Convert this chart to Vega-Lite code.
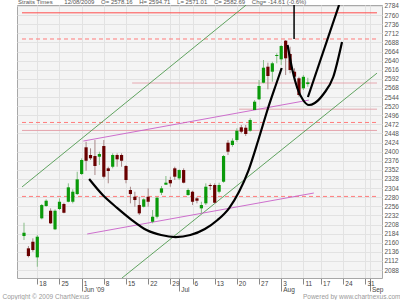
{
  "$schema": "https://vega.github.io/schema/vega-lite/v6.json",
  "width": 365,
  "height": 273,
  "autosize": {"type": "none"},
  "padding": {"left": 17, "top": 5, "right": 18, "bottom": 22},
  "background": "white",
  "config": {
    "font": "Liberation Sans",
    "view": {"fill": "#f4f4f4", "stroke": "#a8a8a8", "strokeWidth": 1},
    "axisX": {"labelAlign": "left", "labelBaseline": "top", "labelOffset": 1.5, "labelFontSize": 6.5, "labelColor": "#444444", "labelLineHeight": 6.5, "tickColor": "#888888", "grid": true, "gridColor": "#e2e2e2", "domain": false, "titleAnchor": "start", "titleAlign": "left", "titleBaseline": "alphabetic", "titleFontSize": 6.5, "titleFontWeight": "normal", "titleColor": "#999999"},
    "axisY": {"labelFontSize": 6.5, "labelColor": "#555555", "labelPadding": 2, "tickSize": 0, "grid": true, "gridColor": "#e2e2e2", "domain": false, "titleAngle": 0, "titleAlign": "right", "titleBaseline": "alphabetic", "titleFontSize": 6.5, "titleFontWeight": "normal", "titleColor": "#999999"}
  },
  "title": {
    "text": "Straits Times\u00a0\u00a0\u00a0\u00a0\u00a0\u00a0\u00a012/08/2009\u00a0\u00a0\u00a0\u00a0O= 2578.16\u00a0\u00a0\u00a0\u00a0H= 2594.71\u00a0\u00a0\u00a0\u00a0L= 2571.01\u00a0\u00a0\u00a0\u00a0C= 2582.69\u00a0\u00a0\u00a0\u00a0Chg= -14.61 (-0.6%)",
    "anchor": "start",
    "frame": "group",
    "orient": "top",
    "offset": -4,
    "dx": 1,
    "dy": 3,
    "baseline": "alphabetic",
    "fontSize": 6,
    "fontWeight": "normal",
    "color": "#555555",
    "font": "Liberation Sans"
  },
  "datasets": {
    "candles": [
      {"i": -3, "o": 2177.6, "h": 2212.7, "l": 2167.1, "c": 2186.3},
      {"i": -2, "o": 2145.2, "h": 2151.2, "l": 2121.4, "c": 2124.9},
      {"i": -1, "o": 2162.6, "h": 2171.6, "l": 2136.2, "c": 2140.7},
      {"i": 0, "o": 2121.4, "h": 2180.2, "l": 2096.7, "c": 2175.8},
      {"i": 1, "o": 2224.3, "h": 2262.0, "l": 2221.6, "c": 2259.3},
      {"i": 2, "o": 2256.7, "h": 2274.3, "l": 2254.8, "c": 2270.7},
      {"i": 3, "o": 2244.3, "h": 2250.6, "l": 2209.3, "c": 2211.1},
      {"i": 4, "o": 2195.3, "h": 2248.0, "l": 2193.4, "c": 2244.3},
      {"i": 5, "o": 2248.8, "h": 2277.0, "l": 2246.2, "c": 2268.0},
      {"i": 6, "o": 2262.0, "h": 2265.4, "l": 2237.5, "c": 2239.0},
      {"i": 7, "o": 2268.0, "h": 2316.5, "l": 2266.5, "c": 2306.0},
      {"i": 8, "o": 2268.0, "h": 2300.7, "l": 2263.8, "c": 2294.4},
      {"i": 9, "o": 2288.3, "h": 2347.1, "l": 2285.7, "c": 2327.1},
      {"i": 10, "o": 2341.1, "h": 2382.4, "l": 2338.4, "c": 2378.0},
      {"i": 11, "o": 2411.5, "h": 2426.2, "l": 2349.8, "c": 2376.1},
      {"i": 12, "o": 2391.2, "h": 2408.8, "l": 2378.0, "c": 2382.5},
      {"i": 13, "o": 2388.5, "h": 2430.7, "l": 2338.4, "c": 2362.2},
      {"i": 14, "o": 2386.7, "h": 2399.9, "l": 2364.8, "c": 2393.8},
      {"i": 15, "o": 2414.9, "h": 2430.7, "l": 2329.7, "c": 2333.9},
      {"i": 16, "o": 2356.1, "h": 2360.3, "l": 2316.6, "c": 2349.0},
      {"i": 17, "o": 2360.3, "h": 2395.6, "l": 2356.1, "c": 2391.2},
      {"i": 18, "o": 2391.2, "h": 2395.6, "l": 2360.3, "c": 2379.8},
      {"i": 19, "o": 2391.2, "h": 2395.6, "l": 2360.3, "c": 2376.1},
      {"i": 20, "o": 2362.2, "h": 2364.8, "l": 2316.6, "c": 2325.3},
      {"i": 21, "o": 2298.9, "h": 2307.6, "l": 2263.8, "c": 2288.3},
      {"i": 22, "o": 2281.2, "h": 2294.4, "l": 2254.8, "c": 2272.5},
      {"i": 23, "o": 2259.3, "h": 2281.2, "l": 2233.0, "c": 2237.4},
      {"i": 24, "o": 2254.8, "h": 2277.0, "l": 2253.0, "c": 2274.3},
      {"i": 25, "o": 2281.2, "h": 2303.4, "l": 2254.8, "c": 2268.0},
      {"i": 26, "o": 2215.3, "h": 2246.2, "l": 2211.1, "c": 2228.5},
      {"i": 27, "o": 2228.5, "h": 2281.2, "l": 2224.0, "c": 2278.6},
      {"i": 28, "o": 2291.8, "h": 2309.4, "l": 2285.7, "c": 2303.4},
      {"i": 29, "o": 2312.9, "h": 2335.8, "l": 2312.9, "c": 2318.2},
      {"i": 30, "o": 2325.3, "h": 2334.0, "l": 2307.6, "c": 2316.5},
      {"i": 31, "o": 2356.1, "h": 2360.3, "l": 2325.3, "c": 2334.0},
      {"i": 32, "o": 2329.7, "h": 2353.5, "l": 2325.3, "c": 2351.6},
      {"i": 33, "o": 2351.6, "h": 2356.1, "l": 2316.5, "c": 2318.2},
      {"i": 34, "o": 2285.7, "h": 2303.4, "l": 2283.8, "c": 2298.9},
      {"i": 35, "o": 2294.4, "h": 2297.0, "l": 2259.3, "c": 2268.0},
      {"i": 36, "o": 2277.0, "h": 2281.2, "l": 2263.8, "c": 2270.7},
      {"i": 37, "o": 2250.6, "h": 2268.0, "l": 2237.4, "c": 2259.3},
      {"i": 38, "o": 2263.8, "h": 2316.5, "l": 2259.3, "c": 2307.6},
      {"i": 39, "o": 2312.1, "h": 2316.5, "l": 2298.9, "c": 2309.4},
      {"i": 40, "o": 2312.1, "h": 2316.5, "l": 2263.8, "c": 2265.4},
      {"i": 41, "o": 2294.4, "h": 2318.2, "l": 2290.0, "c": 2312.1},
      {"i": 42, "o": 2320.8, "h": 2391.2, "l": 2318.2, "c": 2388.5},
      {"i": 43, "o": 2423.6, "h": 2430.7, "l": 2391.2, "c": 2399.9},
      {"i": 44, "o": 2417.5, "h": 2435.2, "l": 2413.0, "c": 2428.9},
      {"i": 45, "o": 2430.7, "h": 2461.5, "l": 2426.2, "c": 2455.2},
      {"i": 46, "o": 2464.2, "h": 2470.3, "l": 2448.4, "c": 2452.6},
      {"i": 47, "o": 2463.1, "h": 2470.3, "l": 2441.2, "c": 2446.5},
      {"i": 48, "o": 2455.2, "h": 2487.9, "l": 2452.6, "c": 2483.4},
      {"i": 49, "o": 2509.8, "h": 2536.1, "l": 2509.8, "c": 2531.7},
      {"i": 50, "o": 2538.0, "h": 2588.9, "l": 2536.1, "c": 2573.1},
      {"i": 51, "o": 2581.8, "h": 2641.6, "l": 2580.2, "c": 2621.3},
      {"i": 52, "o": 2624.0, "h": 2634.5, "l": 2564.4, "c": 2599.4},
      {"i": 53, "o": 2610.8, "h": 2637.1, "l": 2584.4, "c": 2632.9},
      {"i": 54, "o": 2652.2, "h": 2659.3, "l": 2632.9, "c": 2654.8},
      {"i": 55, "o": 2643.4, "h": 2681.2, "l": 2628.5, "c": 2678.5},
      {"i": 56, "o": 2692.5, "h": 2694.3, "l": 2602.0, "c": 2646.1},
      {"i": 57, "o": 2657.5, "h": 2676.7, "l": 2606.6, "c": 2615.3},
      {"i": 58, "o": 2610.8, "h": 2619.7, "l": 2588.9, "c": 2597.6},
      {"i": 59, "o": 2593.4, "h": 2597.6, "l": 2544.9, "c": 2549.3},
      {"i": 60, "o": 2567.0, "h": 2602.0, "l": 2562.5, "c": 2597.3},
      {"i": 61, "o": 2578.16, "h": 2594.71, "l": 2571.01, "c": 2582.69}
    ],
    "levels": [
      {"kind": "major", "v": 2766, "a": -3.45, "b": 76.6},
      {"kind": "dashed", "v": 2697, "a": -3.45, "b": 76.6},
      {"kind": "minor", "v": 2581, "a": 21.4, "b": 76.6},
      {"kind": "minor", "v": 2512, "a": 45.5, "b": 76.6},
      {"kind": "dashed", "v": 2477, "a": -3.45, "b": 76.6},
      {"kind": "minor", "v": 2456, "a": -3.45, "b": 76.6},
      {"kind": "dashed", "v": 2282, "a": -3.45, "b": 76.6}
    ],
    "trends": [
      {"name": "channelUpper", "kind": "channel", "i": -3.44, "v": 2307},
      {"name": "channelUpper", "kind": "channel", "i": 47.1, "v": 2786.6},
      {"name": "channelLower", "kind": "channel", "i": 19.1, "v": 2067},
      {"name": "channelLower", "kind": "channel", "i": 76.6, "v": 2607},
      {"name": "fanUpper", "kind": "fan", "i": 10.37, "v": 2428},
      {"name": "fanUpper", "kind": "fan", "i": 61.25, "v": 2536},
      {"name": "fanLower", "kind": "fan", "i": 11.25, "v": 2183},
      {"name": "fanLower", "kind": "fan", "i": 62.35, "v": 2291}
    ],
    "curves": [
      {"name": "bigCup", "i": 11.69, "v": 2327.9},
      {"name": "bigCup", "i": 14.76, "v": 2285.7},
      {"name": "bigCup", "i": 18.05, "v": 2251.4},
      {"name": "bigCup", "i": 21.34, "v": 2219.8},
      {"name": "bigCup", "i": 24.63, "v": 2193.4},
      {"name": "bigCup", "i": 27.92, "v": 2180.2},
      {"name": "bigCup", "i": 31.21, "v": 2175.0},
      {"name": "bigCup", "i": 34.5, "v": 2180.2},
      {"name": "bigCup", "i": 37.79, "v": 2196.1},
      {"name": "bigCup", "i": 40.64, "v": 2219.8},
      {"name": "bigCup", "i": 43.27, "v": 2251.4},
      {"name": "bigCup", "i": 45.46, "v": 2293.6},
      {"name": "bigCup", "i": 47.65, "v": 2351.6},
      {"name": "bigCup", "i": 49.84, "v": 2430.7},
      {"name": "bigCup", "i": 52.04, "v": 2515.1},
      {"name": "bigCup", "i": 53.79, "v": 2575.7},
      {"name": "bigCup", "i": 55.11, "v": 2620.5},
      {"name": "smallCup", "i": 56.43, "v": 2681.2},
      {"name": "smallCup", "i": 57.52, "v": 2615.3},
      {"name": "smallCup", "i": 58.62, "v": 2567.8},
      {"name": "smallCup", "i": 59.93, "v": 2536.2},
      {"name": "smallCup", "i": 61.25, "v": 2523.0},
      {"name": "smallCup", "i": 62.57, "v": 2528.3},
      {"name": "smallCup", "i": 64.54, "v": 2552.0},
      {"name": "smallCup", "i": 66.73, "v": 2596.8},
      {"name": "smallCup", "i": 68.71, "v": 2689.1},
      {"name": "breakout", "i": 61.03, "v": 2544.1},
      {"name": "breakout", "i": 68.05, "v": 2786.6}
    ],
    "marker": [
      {"i": 57.9, "from": 2697, "to": 2786.6}
    ]
  },
  "layer": [
    {
      "data": {"name": "levels"},
      "mark": {"type": "rule", "strokeWidth": 1},
      "encoding": {
        "x": {
          "field": "a", "type": "quantitative",
          "scale": {"domain": [-3.45, 76.6], "nice": false, "zero": false},
          "axis": {"values": [0, 5, 10, 15, 20, 25, 30, 32, 35, 40, 45, 50, 55, 60, 64, 69, 74, 75], "labelExpr": "['18','25',['1',\"Jun '09\"],'8','15','22','29',['','Jul'],'6','13','20','27',['3','Aug'],'11','17','24','31',['','Sep']][indexof([0,5,10,15,20,25,30,32,35,40,45,50,55,60,64,69,74,75], datum.value)]", "labelOverlap": false, "labelFlush": false, "labelPadding": {"condition": {"test": "indexof([10,32,55,75], datum.value) >= 0", "value": -11}, "value": -4}, "tickSize": {"condition": {"test": "indexof([10,32,55,75], datum.value) >= 0", "value": 13}, "value": 6}, "title": "Copyright © 2009 ChartNexus", "titleX": -15, "titleY": 20.5}
        },
        "x2": {"field": "b"},
        "y": {
          "field": "v", "type": "quantitative",
          "scale": {"domain": [2067, 2786.6], "nice": false, "zero": false},
          "axis": {"orient": "right", "values": [2088, 2112, 2136, 2160, 2184, 2208, 2232, 2256, 2280, 2304, 2328, 2352, 2376, 2400, 2424, 2448, 2472, 2496, 2520, 2544, 2568, 2592, 2616, 2640, 2664, 2688, 2712, 2736, 2760, 2784], "format": "d", "labelOverlap": false, "labelFlush": false, "title": "Powered by www.chartnexus.com", "titleX": 18, "titleY": 293.5}
        },
        "color": {"condition": [{"test": "datum.kind == 'major'", "value": "#ff4d4d"}, {"test": "datum.kind == 'dashed'", "value": "#ff7c7c"}], "value": "#e3a3ab"},
        "strokeDash": {"condition": {"test": "datum.kind == 'dashed'", "value": [4, 3]}, "value": [1, 0]}
      }
    },
    {
      "data": {"name": "trends"},
      "mark": {"type": "line", "strokeWidth": 0.9, "clip": true},
      "encoding": {
        "x": {"field": "i", "type": "quantitative", "axis": {"values": [0, 5, 10, 15, 20, 25, 30, 32, 35, 40, 45, 50, 55, 60, 64, 69, 74, 75], "labelExpr": "['18','25',['1',\"Jun '09\"],'8','15','22','29',['','Jul'],'6','13','20','27',['3','Aug'],'11','17','24','31',['','Sep']][indexof([0,5,10,15,20,25,30,32,35,40,45,50,55,60,64,69,74,75], datum.value)]", "labelOverlap": false, "labelFlush": false, "labelPadding": {"condition": {"test": "indexof([10,32,55,75], datum.value) >= 0", "value": -11}, "value": -4}, "tickSize": {"condition": {"test": "indexof([10,32,55,75], datum.value) >= 0", "value": 13}, "value": 6}, "title": "Copyright © 2009 ChartNexus", "titleX": -15, "titleY": 20.5}},
        "y": {"field": "v", "type": "quantitative", "axis": {"orient": "right", "values": [2088, 2112, 2136, 2160, 2184, 2208, 2232, 2256, 2280, 2304, 2328, 2352, 2376, 2400, 2424, 2448, 2472, 2496, 2520, 2544, 2568, 2592, 2616, 2640, 2664, 2688, 2712, 2736, 2760, 2784], "format": "d", "labelOverlap": false, "labelFlush": false, "title": "Powered by www.chartnexus.com", "titleX": 18, "titleY": 293.5}},
        "detail": {"field": "name"},
        "color": {"condition": {"test": "datum.kind == 'channel'", "value": "#4f9a4f"}, "value": "#c860c8"}
      }
    },
    {
      "data": {"name": "candles"},
      "mark": {"type": "rule", "strokeWidth": 1},
      "encoding": {
        "x": {"field": "i", "type": "quantitative", "axis": {"values": [0, 5, 10, 15, 20, 25, 30, 32, 35, 40, 45, 50, 55, 60, 64, 69, 74, 75], "labelExpr": "['18','25',['1',\"Jun '09\"],'8','15','22','29',['','Jul'],'6','13','20','27',['3','Aug'],'11','17','24','31',['','Sep']][indexof([0,5,10,15,20,25,30,32,35,40,45,50,55,60,64,69,74,75], datum.value)]", "labelOverlap": false, "labelFlush": false, "labelPadding": {"condition": {"test": "indexof([10,32,55,75], datum.value) >= 0", "value": -11}, "value": -4}, "tickSize": {"condition": {"test": "indexof([10,32,55,75], datum.value) >= 0", "value": 13}, "value": 6}, "title": "Copyright © 2009 ChartNexus", "titleX": -15, "titleY": 20.5}},
        "y": {"field": "l", "type": "quantitative", "axis": {"orient": "right", "values": [2088, 2112, 2136, 2160, 2184, 2208, 2232, 2256, 2280, 2304, 2328, 2352, 2376, 2400, 2424, 2448, 2472, 2496, 2520, 2544, 2568, 2592, 2616, 2640, 2664, 2688, 2712, 2736, 2760, 2784], "format": "d", "labelOverlap": false, "labelFlush": false, "title": "Powered by www.chartnexus.com", "titleX": 18, "titleY": 293.5}},
        "y2": {"field": "h"},
        "color": {"condition": {"test": "datum.c >= datum.o", "value": "#86bc86"}, "value": "#a88888"}
      }
    },
    {
      "data": {"name": "candles"},
      "mark": {"type": "bar", "width": 3.2},
      "encoding": {
        "x": {"field": "i", "type": "quantitative", "axis": {"values": [0, 5, 10, 15, 20, 25, 30, 32, 35, 40, 45, 50, 55, 60, 64, 69, 74, 75], "labelExpr": "['18','25',['1',\"Jun '09\"],'8','15','22','29',['','Jul'],'6','13','20','27',['3','Aug'],'11','17','24','31',['','Sep']][indexof([0,5,10,15,20,25,30,32,35,40,45,50,55,60,64,69,74,75], datum.value)]", "labelOverlap": false, "labelFlush": false, "labelPadding": {"condition": {"test": "indexof([10,32,55,75], datum.value) >= 0", "value": -11}, "value": -4}, "tickSize": {"condition": {"test": "indexof([10,32,55,75], datum.value) >= 0", "value": 13}, "value": 6}, "title": "Copyright © 2009 ChartNexus", "titleX": -15, "titleY": 20.5}},
        "y": {"field": "o", "type": "quantitative", "axis": {"orient": "right", "values": [2088, 2112, 2136, 2160, 2184, 2208, 2232, 2256, 2280, 2304, 2328, 2352, 2376, 2400, 2424, 2448, 2472, 2496, 2520, 2544, 2568, 2592, 2616, 2640, 2664, 2688, 2712, 2736, 2760, 2784], "format": "d", "labelOverlap": false, "labelFlush": false, "title": "Powered by www.chartnexus.com", "titleX": 18, "titleY": 293.5}},
        "y2": {"field": "c"},
        "color": {"condition": {"test": "datum.c >= datum.o", "value": "#0a9a0a"}, "value": "#680000"}
      }
    },
    {
      "data": {"name": "curves"},
      "mark": {"type": "line", "color": "#000000", "strokeWidth": 2.2, "interpolate": "monotone", "clip": true},
      "encoding": {
        "x": {"field": "i", "type": "quantitative", "axis": {"values": [0, 5, 10, 15, 20, 25, 30, 32, 35, 40, 45, 50, 55, 60, 64, 69, 74, 75], "labelExpr": "['18','25',['1',\"Jun '09\"],'8','15','22','29',['','Jul'],'6','13','20','27',['3','Aug'],'11','17','24','31',['','Sep']][indexof([0,5,10,15,20,25,30,32,35,40,45,50,55,60,64,69,74,75], datum.value)]", "labelOverlap": false, "labelFlush": false, "labelPadding": {"condition": {"test": "indexof([10,32,55,75], datum.value) >= 0", "value": -11}, "value": -4}, "tickSize": {"condition": {"test": "indexof([10,32,55,75], datum.value) >= 0", "value": 13}, "value": 6}, "title": "Copyright © 2009 ChartNexus", "titleX": -15, "titleY": 20.5}},
        "y": {"field": "v", "type": "quantitative", "axis": {"orient": "right", "values": [2088, 2112, 2136, 2160, 2184, 2208, 2232, 2256, 2280, 2304, 2328, 2352, 2376, 2400, 2424, 2448, 2472, 2496, 2520, 2544, 2568, 2592, 2616, 2640, 2664, 2688, 2712, 2736, 2760, 2784], "format": "d", "labelOverlap": false, "labelFlush": false, "title": "Powered by www.chartnexus.com", "titleX": 18, "titleY": 293.5}},
        "detail": {"field": "name"}
      }
    },
    {
      "data": {"name": "marker"},
      "mark": {"type": "rule", "color": "#000000", "strokeWidth": 1.5},
      "encoding": {
        "x": {"field": "i", "type": "quantitative", "axis": {"values": [0, 5, 10, 15, 20, 25, 30, 32, 35, 40, 45, 50, 55, 60, 64, 69, 74, 75], "labelExpr": "['18','25',['1',\"Jun '09\"],'8','15','22','29',['','Jul'],'6','13','20','27',['3','Aug'],'11','17','24','31',['','Sep']][indexof([0,5,10,15,20,25,30,32,35,40,45,50,55,60,64,69,74,75], datum.value)]", "labelOverlap": false, "labelFlush": false, "labelPadding": {"condition": {"test": "indexof([10,32,55,75], datum.value) >= 0", "value": -11}, "value": -4}, "tickSize": {"condition": {"test": "indexof([10,32,55,75], datum.value) >= 0", "value": 13}, "value": 6}, "title": "Copyright © 2009 ChartNexus", "titleX": -15, "titleY": 20.5}},
        "y": {"field": "from", "type": "quantitative", "axis": {"orient": "right", "values": [2088, 2112, 2136, 2160, 2184, 2208, 2232, 2256, 2280, 2304, 2328, 2352, 2376, 2400, 2424, 2448, 2472, 2496, 2520, 2544, 2568, 2592, 2616, 2640, 2664, 2688, 2712, 2736, 2760, 2784], "format": "d", "labelOverlap": false, "labelFlush": false, "title": "Powered by www.chartnexus.com", "titleX": 18, "titleY": 293.5}},
        "y2": {"field": "to"}
      }
    }
  ]
}
